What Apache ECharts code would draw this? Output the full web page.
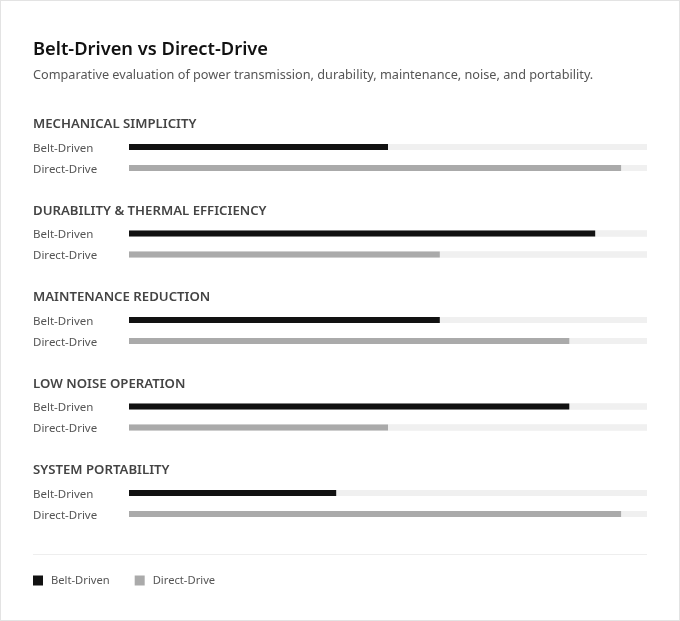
<!DOCTYPE html>
<html><head><meta charset="utf-8">
<script src="https://cdn.jsdelivr.net/npm/echarts@6/dist/echarts.min.js"></script>
<style>
html,body{margin:0;padding:0;background:#fff;}
#wrap{width:680px;height:621px;box-sizing:border-box;border:1px solid #e3e3e3;position:relative;}
#chart{position:absolute;left:-1px;top:-1px;width:680px;height:621px;}
</style></head>
<body><div id="wrap"><div id="chart"></div></div>
<script>
const sections = ['MECHANICAL SIMPLICITY','DURABILITY & THERMAL EFFICIENCY','MAINTENANCE REDUCTION','LOW NOISE OPERATION','SYSTEM PORTABILITY'];
const rowLabels = ['Belt-Driven','Direct-Drive'];
const beltValues = [5, 9, 6, 8.5, 4];
const directValues = [9.5, 6, 8.5, 5, 9.5];
const maxValue = 10;

const FONT = '"Noto Sans", "Open Sans", sans-serif';
const chart = echarts.init(document.getElementById('chart'), null, {renderer:'canvas'});
const grids=[], xAxes=[], yAxes=[], series=[], graphics=[];
const step = 86.5;
sections.forEach((s,i)=>{
  const top = 136.5 + i*step;
  grids.push({left:129, right:33, top:top, height:42});
  xAxes.push({type:'value', gridIndex:i, min:0, max:maxValue, show:false});
  yAxes.push({type:'category', gridIndex:i, data:rowLabels, inverse:true,
    axisLine:{show:false}, axisTick:{show:false}, splitLine:{show:false},
    axisLabel:{align:'left', verticalAlign:'top', lineHeight:3, margin:96, color:'#555', fontSize:11.5, fontFamily:FONT}});
  const bg = {color:'#f0f0f0'};
  series.push({name:'Belt-Driven', type:'bar', xAxisIndex:i, yAxisIndex:i, stack:'s'+i,
    data:[beltValues[i], '-'], barWidth:6, itemStyle:{color:'#111111'}, showBackground:true, backgroundStyle:bg, silent:true});
  series.push({name:'Direct-Drive', type:'bar', xAxisIndex:i, yAxisIndex:i, stack:'s'+i,
    data:['-', directValues[i]], barWidth:6, itemStyle:{color:'#aaaaaa'}, showBackground:true, backgroundStyle:bg, silent:true});
  graphics.push({type:'text', left:33, top:top-13.5-5, style:{text:s, fill:'#444', font:'600 13.2px '+FONT}});
});
graphics.push({type:'text', left:33, top:41, style:{text:'Belt-Driven vs Direct-Drive', fill:'#111', font:'600 18.3px '+FONT}});
graphics.push({type:'text', left:33, top:69, style:{text:'Comparative evaluation of power transmission, durability, maintenance, noise, and portability.', fill:'#555', font:'12.7px '+FONT}});
graphics.push({type:'line', shape:{x1:33,y1:554.5,x2:647,y2:554.5}, style:{stroke:'#eeeeee', lineWidth:1}});

chart.setOption({
  animation:false,
  grid:grids, xAxis:xAxes, yAxis:yAxes, series:series, graphic:graphics,
  legend:{data:['Belt-Driven','Direct-Drive'], left:33, top:575, padding:0, icon:'rect', itemWidth:10, itemHeight:10, itemGap:25,
    selectedMode:false, textStyle:{color:'#555', fontSize:11.2, fontFamily:FONT, lineHeight:10, padding:[0,0,0,3]}}
});
</script></body></html>
